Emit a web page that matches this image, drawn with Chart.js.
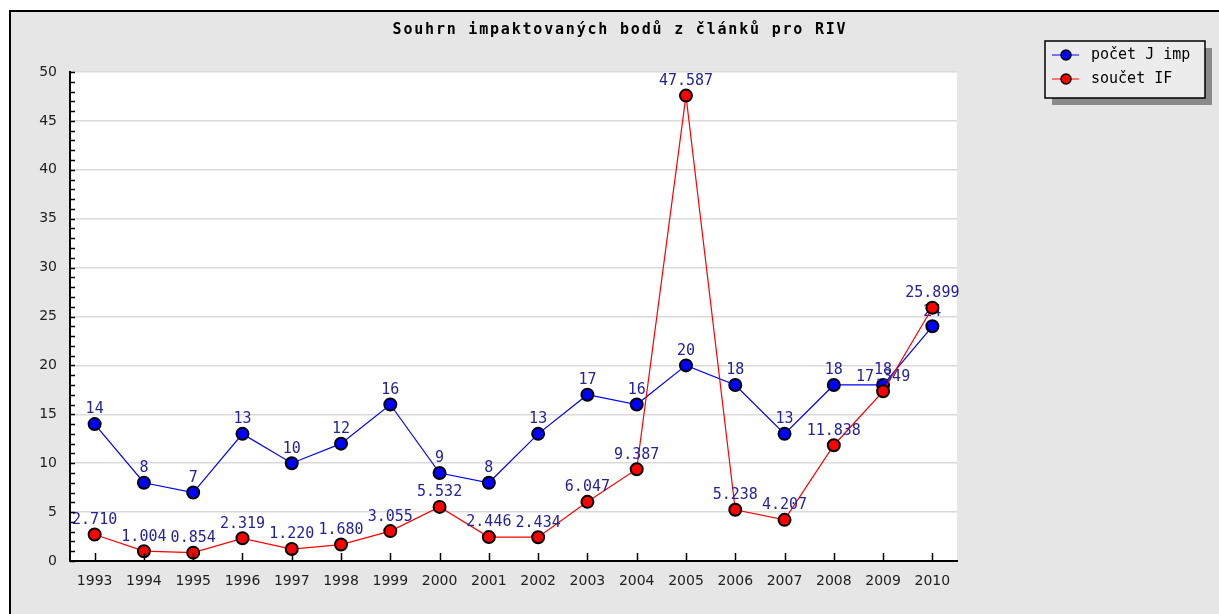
<!DOCTYPE html>
<html>
<head>
<meta charset="utf-8">
<script src="https://cdn.jsdelivr.net/npm/chart.js@4"></script>
<style>
  html, body { margin: 0; padding: 0; background: #fff; }
  canvas { display: block; }
</style>
</head>
<body>
<canvas id="rivChart" width="1219" height="614"></canvas>
<script>
const years = ["1993", "1994", "1995", "1996", "1997", "1998", "1999", "2000", "2001",
               "2002", "2003", "2004", "2005", "2006", "2007", "2008", "2009", "2010"];
const pocetJImp = [14, 8, 7, 13, 10, 12, 16, 9, 8, 13, 17, 16, 20, 18, 13, 18, 18, 24];
const soucetIF = [2.710, 1.004, 0.854, 2.319, 1.220, 1.680, 3.055, 5.532, 2.446,
                  2.434, 6.047, 9.387, 47.587, 5.238, 4.207, 11.838, 17.349, 25.899];
const chartTitle = "Souhrn impaktovaných bodů z článků pro RIV";

const labelFont = "15px 'DejaVu Sans Mono', monospace";

/* frame, title, ticks, legend */
const frame = {
    id: "frame",
    beforeDraw(chart) {
        const { ctx, chartArea: a, width, height } = chart;
        ctx.save();
        ctx.fillStyle = "#fff";
        ctx.fillRect(0, 0, width, height);
        ctx.fillStyle = "#e6e6e6";
        ctx.fillRect(9, 10, width - 9, height - 10);
        ctx.strokeStyle = "#000";
        ctx.lineWidth = 2;
        ctx.beginPath();
        ctx.moveTo(width, 11);
        ctx.lineTo(10, 11);
        ctx.lineTo(10, height);
        ctx.stroke();
        ctx.fillStyle = "#fff";
        ctx.fillRect(a.left, a.top, a.right - a.left, a.bottom - a.top);

        ctx.fillStyle = "#000";
        ctx.font = "bold 15px 'DejaVu Sans Mono', monospace";
        ctx.letterSpacing = "1.8px";
        ctx.textAlign = "center";
        ctx.textBaseline = "middle";
        ctx.fillText(chartTitle, 620, 30);
        ctx.restore();
    },
    afterDatasetDraw(chart, args) {
        const ctx = chart.ctx;
        const ds = chart.data.datasets[args.index];
        ctx.save();
        ctx.font = labelFont;
        ctx.fillStyle = "#24249a";
        ctx.textAlign = "center";
        ctx.textBaseline = "bottom";
        args.meta.data.forEach((pt, i) => {
            const v = ds.data[i];
            const txt = ds.decimals ? v.toFixed(ds.decimals) : String(v);
            ctx.fillText(txt, pt.x, pt.y - 7);
        });
        ctx.restore();
    },
    afterDraw(chart) {
        const { ctx, chartArea: a, scales } = chart;
        ctx.save();
        ctx.strokeStyle = "#000";
        ctx.lineWidth = 1.5;
        ctx.beginPath();
        for (let v = scales.y.min; v <= scales.y.max; v++) {
            const y = Math.round(scales.y.getPixelForValue(v)) + 0.5;
            ctx.moveTo(a.left, y);
            ctx.lineTo(a.left + 5, y);
        }
        years.forEach((_, i) => {
            const x = Math.round(scales.x.getPixelForValue(i)) + 0.5;
            ctx.moveTo(x, a.bottom);
            ctx.lineTo(x, a.bottom - 8);
        });
        ctx.stroke();

        // legend
        const lx = 1045, ly = 41, lw = 160, lh = 57;
        ctx.fillStyle = "#8a8a8a";
        ctx.fillRect(lx + 7, ly + 7, lw, lh);
        ctx.fillStyle = "#ececec";
        ctx.fillRect(lx, ly, lw, lh);
        ctx.strokeStyle = "#000";
        ctx.lineWidth = 1.5;
        ctx.strokeRect(lx, ly, lw, lh);
        ctx.font = labelFont;
        ctx.textBaseline = "middle";
        ctx.textAlign = "left";
        chart.data.datasets.forEach((ds, i) => {
            const y = 55 + i * 24;
            ctx.strokeStyle = ds.borderColor;
            ctx.lineWidth = 1;
            ctx.beginPath();
            ctx.moveTo(1052, y);
            ctx.lineTo(1079, y);
            ctx.stroke();
            ctx.beginPath();
            ctx.arc(1066, y, 5, 0, Math.PI * 2);
            ctx.fillStyle = ds.pointBackgroundColor;
            ctx.fill();
            ctx.strokeStyle = "#000";
            ctx.lineWidth = 1.5;
            ctx.stroke();
            ctx.fillStyle = "#000";
            ctx.fillText(ds.label, 1091, y);
        });
        ctx.restore();
    }
};

new Chart(document.getElementById("rivChart"), {
    type: "line",
    data: {
        labels: years,
        datasets: [{
            label: "počet J imp",
            data: pocetJImp,
            decimals: 0,
            borderColor: "#0000ff",
            borderWidth: 1.2,
            pointBackgroundColor: "#0000ff",
            pointBorderColor: "#000",
            pointBorderWidth: 2,
            pointRadius: 6,
            tension: 0,
            order: 1
        }, {
            label: "součet IF",
            data: soucetIF,
            decimals: 3,
            borderColor: "#ff0000",
            borderWidth: 1.2,
            pointBackgroundColor: "#ff0000",
            pointBorderColor: "#000",
            pointBorderWidth: 2,
            pointRadius: 6,
            tension: 0,
            order: 0
        }]
    },
    options: {
        responsive: false,
        animation: false,
        layout: { padding: { top: 72, right: 262, left: 0, bottom: 0 } },
        plugins: {
            legend: { display: false },
            title: { display: false },
            tooltip: { enabled: false }
        },
        scales: {
            x: {
                offset: true,
                grid: { display: false, drawTicks: false },
                border: { display: true, color: "#000", width: 2 },
                ticks: {
                    color: "#222",
                    padding: 12,
                    maxRotation: 0,
                    font: { family: "'DejaVu Sans', sans-serif", size: 14 }
                },
                afterFit: s => { s.height = 53; }
            },
            y: {
                min: 0,
                max: 50,
                grid: { color: "#dadada", lineWidth: 1.5, drawTicks: false },
                border: { display: true, color: "#000", width: 2 },
                ticks: {
                    stepSize: 5,
                    color: "#222",
                    padding: 13,
                    font: { family: "'DejaVu Sans', sans-serif", size: 14 }
                },
                afterFit: s => { s.width = 70; }
            }
        }
    },
    plugins: [frame]
});
</script>
</body>
</html>
